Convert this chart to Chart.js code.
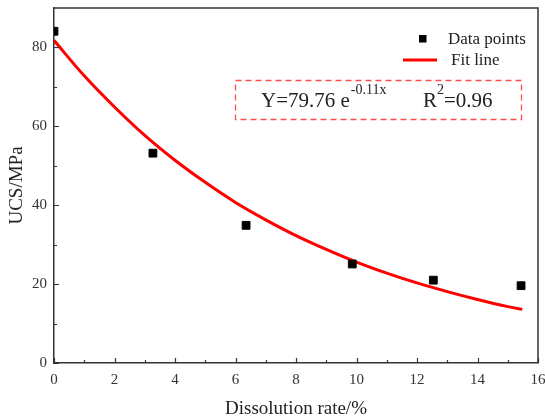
<!DOCTYPE html>
<html>
<head>
<meta charset="utf-8">
<script src="https://cdn.jsdelivr.net/npm/chart.js@4.4.1/dist/chart.umd.min.js"></script>
<style>
  html, body { margin: 0; padding: 0; background: #fff; }
  #wrap { width: 545px; height: 420px; }
</style>
</head>
<body>
<div id="wrap"><canvas id="ucsChart" width="545" height="420"></canvas></div>
<script>
const dissolutionRate = [0, 3.27, 6.35, 9.86, 12.54, 15.44];
const ucsValues = [84.1, 53.2, 34.9, 25.1, 21.0, 19.6];

// fit curve
const fitX = [0, 1, 2, 3, 4, 5, 6, 7, 8, 9, 10, 11, 12, 13, 14, 15, 15.48];
const fitY = [81.8, 72.8, 64.9, 57.7, 51.4, 45.8, 40.7, 36.3, 32.3, 28.8, 25.6, 22.8, 20.3, 18.1, 16.1, 14.3, 13.6];

const xTicks = [0, 2, 4, 6, 8, 10, 12, 14, 16];
const yTicks = [0, 20, 40, 60, 80];
const xMinorTicks = [1, 3, 5, 7, 9, 11, 13, 15];
const yMinorTicks = [10, 30, 50, 70];

const legendLabels = ["Data points", "Fit line"];
const equationText = { main: "Y=79.76 e", exp: "-0.11x", r: "R", rExp: "2", rRest: "=0.96" };

const serif = "'Liberation Serif', 'Times New Roman', serif";
const axisColor = "#333";

// no extra room for overflowing tick labels, the frame sits where the reference has it
function noScalePadding(scale) {
  scale.paddingTop = 0;
  scale.paddingBottom = 0;
  scale.paddingLeft = 0;
  scale.paddingRight = 0;
}

// frame, inward ticks, legend and equation box (Origin style)
const decorPlugin = {
  id: "decor",
  afterDraw(chart) {
    const ctx = chart.ctx;
    const area = chart.chartArea;
    const xs = chart.scales.x;
    const ys = chart.scales.y;
    ctx.save();

    // top and right frame
    ctx.strokeStyle = axisColor;
    ctx.lineWidth = 1.5;
    ctx.beginPath();
    ctx.moveTo(area.left, area.top);
    ctx.lineTo(area.right, area.top);
    ctx.lineTo(area.right, area.bottom);
    ctx.stroke();

    // inward ticks
    ctx.lineWidth = 1.2;
    ctx.beginPath();
    xTicks.forEach(v => {
      const px = Math.round(xs.getPixelForValue(v)) + 0.5;
      ctx.moveTo(px, area.bottom);
      ctx.lineTo(px, area.bottom - 5);
    });
    xMinorTicks.forEach(v => {
      const px = Math.round(xs.getPixelForValue(v)) + 0.5;
      ctx.moveTo(px, area.bottom);
      ctx.lineTo(px, area.bottom - 3);
    });
    yTicks.forEach(v => {
      const py = Math.round(ys.getPixelForValue(v)) + 0.5;
      ctx.moveTo(area.left, py);
      ctx.lineTo(area.left + 5, py);
    });
    yMinorTicks.forEach(v => {
      const py = Math.round(ys.getPixelForValue(v)) + 0.5;
      ctx.moveTo(area.left, py);
      ctx.lineTo(area.left + 3, py);
    });
    ctx.stroke();

    // legend
    const pts = chart.data.datasets[0];
    const fit = chart.data.datasets[1];
    ctx.fillStyle = pts.backgroundColor;
    ctx.fillRect(419, 35, 7.5, 7.5);
    ctx.strokeStyle = fit.borderColor;
    ctx.lineWidth = 3;
    ctx.beginPath();
    ctx.moveTo(403, 60);
    ctx.lineTo(437, 60);
    ctx.stroke();
    ctx.fillStyle = "#222";
    ctx.font = "17px " + serif;
    ctx.textBaseline = "alphabetic";
    ctx.textAlign = "left";
    ctx.fillText(legendLabels[0], 448, 44);
    ctx.fillText(legendLabels[1], 451, 65);

    // equation box
    ctx.strokeStyle = "#ff4d4d";
    ctx.lineWidth = 1.3;
    ctx.setLineDash([6, 4]);
    ctx.strokeRect(235.5, 80.5, 286, 39);
    ctx.setLineDash([]);

    ctx.fillStyle = "#222";
    ctx.font = "21px " + serif;
    ctx.fillText(equationText.main, 261, 107);
    let w = ctx.measureText(equationText.main).width;
    ctx.font = "14px " + serif;
    ctx.fillText(equationText.exp, 261 + w + 1, 94);
    ctx.font = "21px " + serif;
    ctx.fillText(equationText.r, 423, 107);
    w = ctx.measureText(equationText.r).width;
    ctx.font = "14px " + serif;
    ctx.fillText(equationText.rExp, 423 + w, 94);
    const w2 = ctx.measureText(equationText.rExp).width;
    ctx.font = "21px " + serif;
    ctx.fillText(equationText.rRest, 423 + w + w2, 107);

    ctx.restore();
  }
};

const ctx = document.getElementById("ucsChart").getContext("2d");
new Chart(ctx, {
  type: "scatter",
  data: {
    datasets: [
      {
        label: legendLabels[0],
        data: dissolutionRate.map((x, i) => ({ x: x, y: ucsValues[i] })),
        backgroundColor: "#000",
        borderColor: "#000",
        pointStyle: "rect",
        pointRadius: 5.5,
        pointHoverRadius: 5.5,
        order: 1
      },
      {
        label: legendLabels[1],
        data: fitX.map((x, i) => ({ x: x, y: fitY[i] })),
        showLine: true,
        borderColor: "#ff0000",
        backgroundColor: "#ff0000",
        borderWidth: 3,
        pointRadius: 0,
        cubicInterpolationMode: "monotone",
        fill: false,
        order: 2
      }
    ]
  },
  options: {
    responsive: false,
    animation: false,
    events: [],
    layout: { padding: { left: 0, right: 7, top: 8, bottom: 0 } },
    plugins: {
      legend: { display: false },
      tooltip: { enabled: false }
    },
    scales: {
      x: {
        type: "linear",
        min: 0,
        max: 16,
        afterBuildTicks: scale => { scale.ticks = xTicks.map(v => ({ value: v })); },
        afterFit: scale => { scale.height = 57; noScalePadding(scale); },
        grid: { display: false, drawTicks: false },
        border: { display: true, color: axisColor, width: 1.5 },
        ticks: {
          color: "#333",
          font: { family: serif, size: 15 },
          padding: 8,
          maxRotation: 0
        },
        title: {
          display: true,
          text: "Dissolution rate/%",
          color: "#222",
          font: { family: serif, size: 19 },
          padding: { top: 4, bottom: 0 }
        }
      },
      y: {
        type: "linear",
        min: 0,
        max: 90,
        afterBuildTicks: scale => { scale.ticks = yTicks.map(v => ({ value: v })); },
        afterFit: scale => { scale.width = 54; noScalePadding(scale); },
        grid: { display: false, drawTicks: false },
        border: { display: true, color: axisColor, width: 1.5 },
        ticks: {
          color: "#333",
          font: { family: serif, size: 15 },
          padding: 7
        },
        title: {
          display: true,
          text: "UCS/MPa",
          color: "#222",
          font: { family: serif, size: 19 },
          padding: { top: 6, bottom: 4 }
        }
      }
    }
  },
  plugins: [decorPlugin]
});
</script>
</body>
</html>
